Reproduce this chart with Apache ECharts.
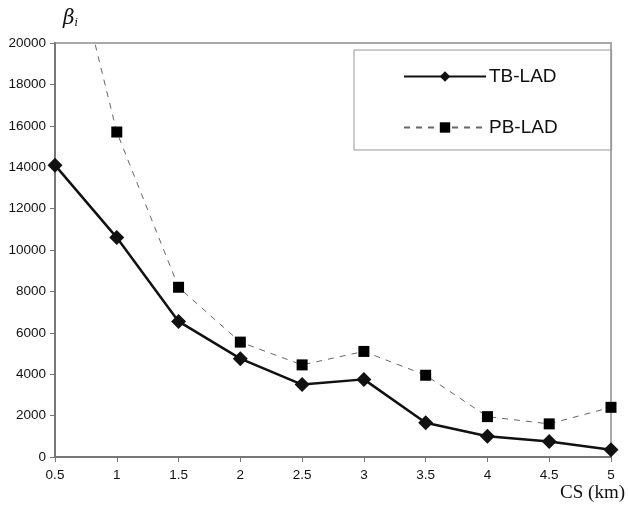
<!DOCTYPE html>
<html><head><meta charset="utf-8">
<script src="https://cdn.jsdelivr.net/npm/echarts@6/dist/echarts.min.js"></script>
<style>html,body{margin:0;padding:0;background:#fff}#c{width:628px;height:509px}</style>
</head><body><div id="c"></div>
<script>
const csKm = [0.5, 1, 1.5, 2, 2.5, 3, 3.5, 4, 4.5, 5];
const tbLad = [14100, 10600, 6550, 4750, 3500, 3750, 1650, 1000, 750, 350];
const pbLad = [27800, 15700, 8200, 5550, 4450, 5100, 3950, 1950, 1600, 2400];
const yTicks = [0, 2000, 4000, 6000, 8000, 10000, 12000, 14000, 16000, 18000, 20000];

const chart = echarts.init(document.getElementById('c'));
const font = 'Liberation Sans, Arial, sans-serif';
chart.setOption({
  animation: false,
  grid: { left: 55, right: 17, top: 43, bottom: 52, show: true, borderColor: '#a8a8a8', borderWidth: 2 },
  legend: {
    orient: 'vertical', left: 354, top: 50,
    padding: [17, 54, 13, 49], itemGap: 32,
    itemWidth: 82, itemHeight: 13,
    borderColor: '#999', borderWidth: 1,
    textStyle: { fontFamily: font, fontSize: 19, color: '#111', padding: [0, 0, 0, -2] },
    data: ['TB-LAD', 'PB-LAD']
  },
  xAxis: {
    type: 'value', min: 0.5, max: 5, interval: 0.5,
    name: 'CS (km)', nameLocation: 'end', nameGap: 0,
    nameTextStyle: { fontFamily: 'Liberation Serif, Times New Roman, serif', fontSize: 19, color: '#111', align: 'right', verticalAlign: 'top', padding: [27, -14, 0, 0] },
    axisLine: { lineStyle: { color: '#777', width: 2 } },
    axisTick: { show: true, length: 5, lineStyle: { color: '#777' } },
    splitLine: { show: false },
    axisLabel: { fontFamily: font, fontSize: 13.5, color: '#111', margin: 11, formatter: v => String(v) }
  },
  yAxis: {
    type: 'value', min: 0, max: 20000, interval: 2000,
    name: '{b|β}{s|i}', nameLocation: 'end', nameGap: 0,
    nameTextStyle: { align: 'left', verticalAlign: 'bottom', padding: [0, 0, 14, 8],
      rich: { b: { fontFamily: 'DejaVu Serif, serif', fontStyle: 'italic', fontSize: 20, color: '#111' },
              s: { fontFamily: 'DejaVu Serif, serif', fontStyle: 'italic', fontSize: 11, color: '#111', verticalAlign: 'bottom', padding: [8, 0, 0, 0] } } },
    axisLine: { show: true, lineStyle: { color: '#777', width: 2 } },
    axisTick: { show: true, length: 5, lineStyle: { color: '#777' } },
    splitLine: { show: false },
    axisLabel: { fontFamily: font, fontSize: 13.5, color: '#111', margin: 9,
      formatter: v => yTicks.includes(v) ? String(v) : '' }
  },
  series: [
    { name: 'TB-LAD', type: 'line', data: csKm.map((x, i) => [x, tbLad[i]]),
      symbol: 'diamond', symbolSize: 15, clip: false,
      lineStyle: { color: '#111', width: 2.5 }, itemStyle: { color: '#111' } },
    { name: 'PB-LAD', type: 'line', data: csKm.map((x, i) => [x, pbLad[i]]),
      symbol: 'rect', symbolSize: 11, clip: true,
      lineStyle: { color: '#666', width: 1, type: [6, 6] }, itemStyle: { color: '#000' } }
  ]
});
</script></body></html>
